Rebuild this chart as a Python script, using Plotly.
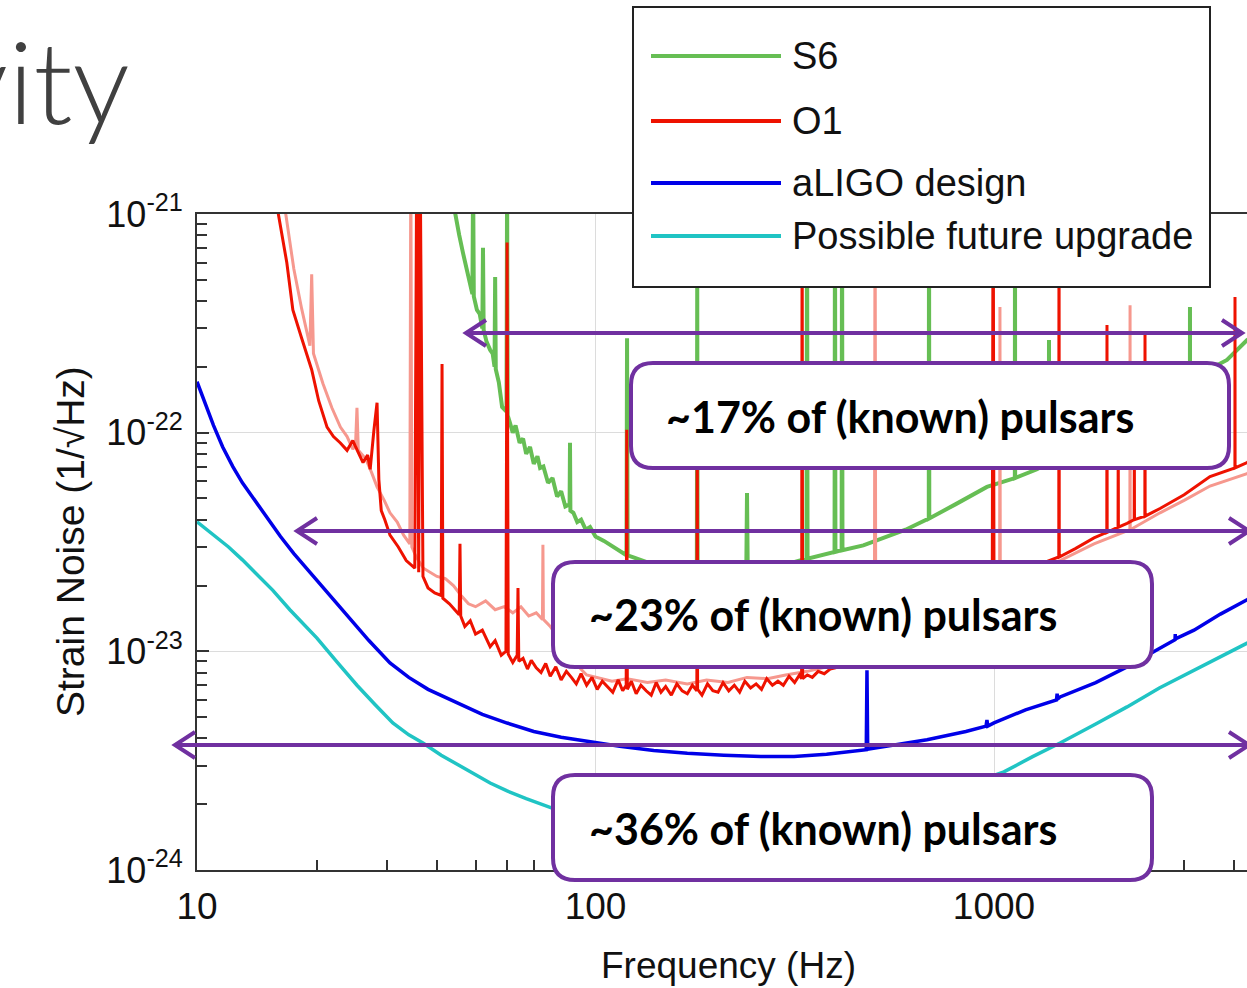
import plotly.graph_objects as go

# ---------------- data ----------------
s6_f = [43.0, 44.4, 45.5, 46.5, 48.0, 49.1, 49.3, 49.5, 50.4, 51.2, 52.0, 52.2, 52.4, 53.3, 54.4, 55.2, 55.8,
        56.0, 56.2, 57.2, 58.3, 59.8, 60.0, 60.2, 61.0, 62.0, 63.0, 64.5, 65.8, 67.0, 68.5, 70.0, 71.5, 72.6,
        74.0, 76.0, 78.0, 80.1, 82.0, 84.0, 86.1, 86.3, 86.5, 88.0, 90.0, 92.0, 94.5, 96.9, 100, 105, 112,
        119.6, 120, 120.4, 124, 135, 150, 165, 179.6, 180, 180.4, 200, 220, 239, 240, 241, 270, 300, 338.5,
        339.5, 340.5, 370, 398, 399, 400, 414.6, 415.6, 416.6, 470, 530, 600, 686, 687, 688, 800, 960, 1128,
        1129, 1130, 1282, 1373, 1374, 1375, 1700, 2200, 2700, 3102, 3103, 3104, 3843, 4315, 4500]
s6_h = [1.4e-21, 1.0e-21, 8.0e-22, 6.64e-22, 5.0e-22, 4.3e-22, 1.5e-21, 4.2e-22, 3.64e-22, 3.5e-22, 3.0e-22,
        7.0e-22, 2.95e-22, 2.6e-22, 2.39e-22, 2.3e-22, 2.0e-22, 5.15e-22, 1.95e-22, 1.7e-22, 1.31e-22, 1.25e-22,
        1.5e-21, 1.2e-22, 1.11e-22, 1.0e-22, 1.08e-22, 9.0e-23, 9.4e-23, 8.0e-23, 8.6e-23, 7.2e-23, 7.8e-23,
        6.9e-23, 7.0e-23, 5.9e-23, 6.2e-23, 5.1e-23, 5.4e-23, 4.6e-23, 4.7e-23, 9.0e-23, 4.4e-23, 4.3e-23,
        3.9e-23, 4.0e-23, 3.6e-23, 3.7e-23, 3.35e-23, 3.2e-23, 2.95e-23, 2.75e-23, 2.7e-22, 2.75e-23, 2.7e-23,
        2.55e-23, 2.45e-23, 2.4e-23, 2.35e-23, 5.0e-22, 2.35e-23, 2.3e-23, 2.3e-23, 2.32e-23, 5.3e-23, 2.33e-23,
        2.4e-23, 2.5e-23, 2.65e-23, 1.5e-21, 2.65e-23, 2.75e-23, 2.85e-23, 1.5e-21, 2.85e-23, 2.9e-23, 1.5e-21,
        2.9e-23, 3.05e-23, 3.3e-23, 3.6e-23, 4.05e-23, 1.5e-21, 4.05e-23, 4.7e-23, 5.65e-23, 6.2e-23, 1.5e-21,
        6.2e-23, 6.8e-23, 7.3e-23, 2.65e-22, 7.3e-23, 9.5e-23, 1.25e-22, 1.55e-22, 1.75e-22, 3.76e-22, 1.75e-22,
        2.15e-22, 2.65e-22, 2.8e-22]

o1b_f = [16.3, 16.7, 17.5, 18.3, 19.2, 19.4, 19.6, 20.7, 21.8, 22.9, 23.8, 24.6, 25.0, 25.2, 25.4, 26.5, 27.4,
         28.3, 29.5, 30.5, 31.8, 33.0, 34.2, 34.4, 34.6, 35.5, 37.0, 38.5, 40.0, 42.0, 44.0, 46.0, 48.0, 50.0,
         53.0, 56.0, 59.0, 62.0, 65.0, 68.0, 71.0, 73.6, 73.8, 74.0, 77.0, 82.0, 88.0, 95.0, 100, 110, 120, 135,
         150, 170, 190, 215, 240, 270, 300, 340, 381, 420, 501, 503, 505, 600, 700, 850, 1000, 1033, 1035, 1037,
         1200, 1465, 1782, 2193, 2195, 2197, 2610, 3000, 3484, 4315, 4500]
o1b_h = [1.3e-21, 1.0e-21, 5.6e-22, 3.7e-22, 2.5e-22, 5.3e-22, 2.3e-22, 1.68e-22, 1.3e-22, 1.06e-22, 9.6e-23,
         8.4e-23, 8.9e-23, 1.3e-22, 8.3e-23, 7.6e-23, 6.6e-23, 5.65e-23, 4.9e-23, 4.3e-23, 3.9e-23, 3.4e-23,
         3.1e-23, 2.0e-21, 3.0e-23, 2.7e-23, 2.4e-23, 2.3e-23, 2.2e-23, 2.15e-23, 2.0e-23, 1.8e-23, 1.65e-23,
         1.6e-23, 1.7e-23, 1.55e-23, 1.6e-23, 1.5e-23, 1.6e-23, 1.45e-23, 1.5e-23, 1.4e-23, 3.07e-23, 1.4e-23,
         1.3e-23, 1.1e-23, 9.0e-24, 7.8e-24, 7.6e-24, 7.3e-24, 7.5e-24, 7.2e-24, 7.4e-24, 7.1e-24, 7.4e-24,
         7.2e-24, 7.6e-24, 7.5e-24, 7.8e-24, 8.1e-24, 8.5e-24, 9.0e-24, 1.0e-23, 2.0e-21, 1.0e-23, 1.15e-23,
         1.35e-23, 1.6e-23, 1.9e-23, 1.95e-23, 3.76e-22, 1.95e-23, 2.2e-23, 2.6e-23, 3.1e-23, 3.6e-23, 3.83e-22,
         3.6e-23, 4.3e-23, 4.9e-23, 5.7e-23, 6.5e-23, 6.8e-23]

o1_f = [15.5, 16.0, 16.8, 17.4, 18.3, 19.4, 20.2, 21.2, 22.0, 22.9, 23.8, 24.6, 25.4, 26.1, 26.8, 27.2, 27.8,
        28.3, 28.6, 29.0, 29.6, 30.5, 32.0, 33.5, 35.2, 35.6, 36.0, 36.3, 36.9, 38.0, 39.5, 41.0, 41.2, 41.4,
        43.0, 44.9, 45.5, 45.7, 45.9, 47.0, 48.5, 50.0, 52.0, 54.4, 56.0, 58.0, 59.6, 60.0,
        60.4, 62, 63.6, 63.9, 64.2, 65.8, 67.5, 69, 71, 73, 75, 77, 79.5, 82, 84.5, 87, 89.5, 92, 95, 98, 101,
        104, 107, 110.5, 114, 117, 119.4, 119.8, 120.2, 123, 126.5, 130, 134, 138, 142, 146, 150, 155, 160,
        165, 170, 175, 179.6, 180, 180.4, 185, 191, 197, 203, 209, 216, 223, 230, 237, 245, 253, 261, 269,
        278, 287, 296, 306, 316, 325, 329, 330, 331, 340, 350, 362, 375, 388, 400, 420,
        480, 600, 700, 850, 990, 995, 1000, 1150, 1300, 1454, 1456, 1458, 1600, 1782, 1919, 1921, 1923, 2048,
        2050, 2052, 2157, 2248, 2250, 2252, 2391, 2393, 2395, 2610, 3000, 3484, 4023, 4025, 4027, 4315, 4500]
o1_h = [1.6e-21, 1.0e-21, 6.0e-22, 3.64e-22, 2.71e-22, 1.94e-22, 1.4e-22, 1.06e-22, 9.6e-23, 8.97e-23, 8.3e-23,
        9.2e-23, 8.1e-23, 7.3e-23, 7.9e-23, 6.8e-23, 1.03e-22, 1.37e-22, 6.1e-23, 4.4e-23, 4.0e-23, 3.4e-23,
        3.0e-23, 2.6e-23, 2.4e-23, 2.0e-21, 2.3e-23, 2.0e-21, 2.2e-23, 1.95e-23, 1.85e-23, 1.8e-23, 2.06e-22,
        1.75e-23, 1.65e-23, 1.5e-23, 1.47e-23, 3.1e-23, 1.45e-23, 1.3e-23, 1.38e-23, 1.2e-23, 1.25e-23,
        1.05e-23, 1.12e-23, 9.6e-24, 1.0e-23, 7.4e-22,
        9.7e-24, 8.9e-24, 9.6e-24, 1.95e-23, 9.0e-24, 9.3e-24, 8.3e-24, 9.1e-24, 8.4e-24, 8.0e-24, 8.8e-24,
        7.7e-24, 8.5e-24, 7.4e-24, 8.1e-24, 7.6e-24, 7.1e-24, 7.9e-24, 7.0e-24, 7.6e-24, 6.7e-24, 7.3e-24,
        6.9e-24, 6.5e-24, 7.4e-24, 6.6e-24, 7.0e-24, 1.03e-22, 6.7e-24, 7.3e-24, 6.4e-24, 7.0e-24, 6.6e-24,
        6.3e-24, 7.2e-24, 6.5e-24, 6.9e-24, 6.3e-24, 7.1e-24, 6.6e-24, 6.4e-24, 7.0e-24, 6.6e-24, 1.6e-22,
        6.7e-24, 6.3e-24, 7.1e-24, 6.6e-24, 6.5e-24, 7.2e-24, 6.6e-24, 7.0e-24, 6.5e-24, 7.3e-24, 6.8e-24,
        7.1e-24, 6.7e-24, 7.5e-24, 7.0e-24, 7.3e-24, 7.0e-24, 7.7e-24, 7.2e-24, 7.8e-24, 7.5e-24, 1.5e-21,
        7.5e-24, 7.8e-24, 7.6e-24, 8.1e-24, 7.9e-24, 8.3e-24, 8.4e-24, 8.8e-24,
        9.8e-24, 1.2e-23, 1.4e-23, 1.7e-23, 2.0e-23, 2.0e-21, 2.0e-23, 2.3e-23, 2.5e-23, 2.7e-23, 2.0e-21,
        2.7e-23, 2.95e-23, 3.3e-23, 3.5e-23, 3.11e-22, 3.5e-23, 3.7e-23, 1.0e-22, 3.7e-23, 3.85e-23, 4.0e-23,
        9.0e-23, 4.0e-23, 4.15e-23, 2.8e-22, 4.15e-23, 4.5e-23, 5.2e-23, 6.3e-23, 6.9e-23, 4.17e-22, 6.9e-23,
        7.3e-23, 7.7e-23]

aligo_f = [10, 10.3, 10.6, 11.0, 11.6, 12.3, 13.0, 14.1, 15.0, 16.2, 17.5, 19.0, 20.7, 22.5, 24.5, 27, 30.5,
           34, 38, 44.9, 52, 60, 70, 82, 96.9, 115, 140, 170, 210, 260, 315, 380, 478, 480, 482, 550, 679, 850,
           955, 960, 965, 1000, 1200, 1435, 1440, 1445, 1465, 1800, 2157, 2600, 2846, 2850, 2855, 3176, 3700,
           4315, 4500]
aligo_h = [1.71e-22, 1.48e-22, 1.28e-22, 1.08e-22, 8.6e-23, 7.0e-23, 5.9e-23, 4.77e-23, 4.05e-23, 3.35e-23,
           2.8e-23, 2.35e-23, 1.97e-23, 1.65e-23, 1.38e-23, 1.12e-23, 8.85e-24, 7.6e-24, 6.7e-24, 5.81e-24,
           5.15e-24, 4.7e-24, 4.3e-24, 4.05e-24, 3.86e-24, 3.68e-24, 3.52e-24, 3.42e-24, 3.35e-24, 3.3e-24,
           3.3e-24, 3.38e-24, 3.55e-24, 8.2e-24, 3.57e-24, 3.72e-24, 3.94e-24, 4.3e-24, 4.55e-24, 4.85e-24,
           4.55e-24, 4.71e-24, 5.4e-24, 6.0e-24, 6.4e-24, 6.05e-24, 6.19e-24, 7.2e-24, 8.49e-24, 1.03e-23,
           1.13e-23, 1.2e-23, 1.14e-23, 1.25e-23, 1.48e-23, 1.72e-23, 1.8e-23]

future_f = [10, 11, 12, 13, 14, 15.5, 17.1, 18.5, 20, 22.5, 25.2, 28, 31, 34, 36.9, 41, 45, 50, 54.4, 60, 67,
            77.8, 100, 150, 220, 350, 550, 800, 1059, 1250, 1465, 1800, 2157, 2600, 3176, 3700, 4315, 4500]
future_h = [3.91e-23, 3.4e-23, 3.0e-23, 2.62e-23, 2.3e-23, 1.9e-23, 1.55e-23, 1.33e-23, 1.15e-23, 8.9e-24,
            7.0e-24, 5.7e-24, 4.7e-24, 4.15e-24, 3.81e-24, 3.35e-24, 3.05e-24, 2.72e-24, 2.5e-24, 2.3e-24,
            2.12e-24, 1.92e-24, 1.75e-24, 1.6e-24, 1.6e-24, 1.7e-24, 1.95e-24, 2.35e-24, 2.81e-24, 3.3e-24,
            3.81e-24, 4.65e-24, 5.57e-24, 6.8e-24, 8.22e-24, 9.5e-24, 1.09e-23, 1.13e-23]

legend_labels = ["S6", "O1", "aLIGO design", "Possible future upgrade"]
box_labels = ["~17% of (known) pulsars", "~23% of (known) pulsars", "~36% of (known) pulsars"]
x_tick_vals = [10, 100, 1000]
x_tick_text = ["10", "100", "1000"]
y_tick_vals = [1e-24, 1e-23, 1e-22, 1e-21]
y_tick_text = ["10<sup>-24</sup>", "10<sup>-23</sup>", "10<sup>-22</sup>", "10<sup>-21</sup>"]

# ---------------- styling / layout ----------------
GREEN = "rgb(102,190,84)"
RED = "rgb(238,18,0)"
PINK = "rgb(246,152,142)"
BLUE = "rgb(0,0,232)"
CYAN = "rgb(32,196,196)"
PURPLE = "rgb(112,48,160)"
AX = "#333333"
FONT = "Liberation Sans, Arial, sans-serif"

W, H = 1247, 988
L, R, T, B = 197, 0, 214, 118
PW, PH = W - L - R, H - T - B


def px(x):
    return (x - L) / PW


def py(y):
    return (H - B - y) / PH


fig = go.Figure()
fig.add_trace(go.Scatter(x=s6_f, y=s6_h, mode="lines", name=legend_labels[0],
                         line=dict(color=GREEN, width=4)))
fig.add_trace(go.Scatter(x=o1b_f, y=o1b_h, mode="lines", name=legend_labels[1] + " (L1)",
                         line=dict(color=PINK, width=3), showlegend=False))
fig.add_trace(go.Scatter(x=o1_f, y=o1_h, mode="lines", name=legend_labels[1],
                         line=dict(color=RED, width=3)))
fig.add_trace(go.Scatter(x=aligo_f, y=aligo_h, mode="lines", name=legend_labels[2],
                         line=dict(color=BLUE, width=3.5)))
fig.add_trace(go.Scatter(x=future_f, y=future_h, mode="lines", name=legend_labels[3],
                         line=dict(color=CYAN, width=3.5)))

x_minor = [v * d for d in (10, 100, 1000) for v in range(2, 10) if v * d < 4400]
y_minor = [v * d for d in (1e-24, 1e-23, 1e-22) for v in range(2, 10)]

fig.update_xaxes(type="log", range=[1, 1 + PW / 398.5], tickvals=x_tick_vals, ticktext=x_tick_text,
                 ticks="inside", ticklen=12, tickwidth=1.5, tickcolor=AX,
                 showline=True, linecolor=AX, linewidth=2, mirror=True,
                 showgrid=True, gridcolor="#dcdcdc", gridwidth=1, zeroline=False,
                 tickfont=dict(family=FONT, size=37, color="#111"), ticklabelstandoff=3,
                 minor=dict(tickvals=x_minor, ticks="inside", ticklen=10, tickwidth=1.5,
                            tickcolor=AX, showgrid=False))
fig.update_yaxes(type="log", range=[-24, -21], tickvals=y_tick_vals, ticktext=y_tick_text,
                 ticks="inside", ticklen=12, tickwidth=1.5, tickcolor=AX,
                 showline=True, linecolor=AX, linewidth=2, mirror=False,
                 showgrid=True, gridcolor="#dcdcdc", gridwidth=1, zeroline=False,
                 tickfont=dict(family=FONT, size=36, color="#111"), ticklabelstandoff=5,
                 minor=dict(tickvals=y_minor, ticks="inside", ticklen=10, tickwidth=1.5,
                            tickcolor=AX, showgrid=False))

shapes = []
annotations = []

# manual legend
shapes.append(dict(type="rect", xref="paper", yref="paper", x0=px(633), x1=px(1210), y0=py(287), y1=py(7),
                   line=dict(color="#222", width=2), fillcolor="white", layer="above"))
leg_y = [56, 121, 183, 236]
leg_col = [GREEN, RED, BLUE, CYAN]
for lab, yy, col in zip(legend_labels, leg_y, leg_col):
    shapes.append(dict(type="line", xref="paper", yref="paper", x0=px(651), x1=px(781), y0=py(yy), y1=py(yy),
                       line=dict(color=col, width=4), layer="above"))
    annotations.append(dict(text=lab, xref="paper", yref="paper", x=px(790), y=py(yy), xanchor="left",
                            yanchor="middle", showarrow=False, font=dict(family=FONT, size=38, color="#111")))


# arrows
def arrow(xl, xr, y, left_head=True, right_head=True):
    out = [dict(type="line", xref="paper", yref="paper", x0=px(xl), x1=px(xr), y0=py(y), y1=py(y),
                line=dict(color=PURPLE, width=4), layer="above")]
    hl, hw = 20, 13
    if left_head:
        out.append(dict(type="path", xref="paper", yref="paper",
                        path=f"M {px(xl + hl)},{py(y - hw)} L {px(xl)},{py(y)} L {px(xl + hl)},{py(y + hw)}",
                        line=dict(color=PURPLE, width=4), layer="above"))
    if right_head:
        out.append(dict(type="path", xref="paper", yref="paper",
                        path=f"M {px(xr - hl)},{py(y - hw)} L {px(xr)},{py(y)} L {px(xr - hl)},{py(y + hw)}",
                        line=dict(color=PURPLE, width=4), layer="above"))
    return out


shapes += arrow(466, 1242, 333)
shapes += arrow(297, 1249, 531)
shapes += arrow(175, 1249, 745)


# rounded boxes
def rbox(x0, y0, x1, y1, r=22):
    p = (f"M {px(x0 + r)},{py(y0)} L {px(x1 - r)},{py(y0)} Q {px(x1)},{py(y0)} {px(x1)},{py(y0 + r)} "
         f"L {px(x1)},{py(y1 - r)} Q {px(x1)},{py(y1)} {px(x1 - r)},{py(y1)} "
         f"L {px(x0 + r)},{py(y1)} Q {px(x0)},{py(y1)} {px(x0)},{py(y1 - r)} "
         f"L {px(x0)},{py(y0 + r)} Q {px(x0)},{py(y0)} {px(x0 + r)},{py(y0)} Z")
    return dict(type="path", xref="paper", yref="paper", path=p, line=dict(color=PURPLE, width=4),
                fillcolor="white", layer="above")


boxes = [(631, 363, 1229, 468, 664, 416), (553, 562, 1152, 667, 587, 614), (553, 775, 1152, 880, 587, 828)]
for (x0, y0, x1, y1, tx, ty), lab in zip(boxes, box_labels):
    shapes.append(rbox(x0, y0, x1, y1))
    annotations.append(dict(text=lab, xref="paper", yref="paper", x=px(tx), y=py(ty), xanchor="left",
                            yanchor="middle", showarrow=False,
                            font=dict(family="Lato, Open Sans, sans-serif", size=43, color="#000", weight=700)))

# axis titles
annotations.append(dict(text="Frequency (Hz)", xref="paper", yref="paper", x=px(728), y=py(965),
                        xanchor="center", yanchor="middle", showarrow=False,
                        font=dict(family=FONT, size=37, color="#111")))
annotations.append(dict(text="Strain Noise (1/√Hz)", xref="paper", yref="paper", x=px(70), y=py(542),
                        xanchor="center", yanchor="middle", showarrow=False, textangle=-90,
                        font=dict(family=FONT, size=39, color="#111")))
# slide title fragment
annotations.append(dict(text="vity", xref="paper", yref="paper", x=px(132), y=py(80), xanchor="right",
                        yanchor="middle", showarrow=False,
                        font=dict(family="Lato, Open Sans, sans-serif", size=114, color="#404040", weight=300)))

fig.update_layout(width=W, height=H, margin=dict(l=L, r=R, t=T, b=B), autosize=False,
                  paper_bgcolor="white", plot_bgcolor="white", showlegend=False,
                  shapes=shapes, annotations=annotations)

fig.write_html("out.html", config={"displayModeBar": False},
               post_script="document.body.style.margin='0px';document.body.style.overflow='hidden';")
